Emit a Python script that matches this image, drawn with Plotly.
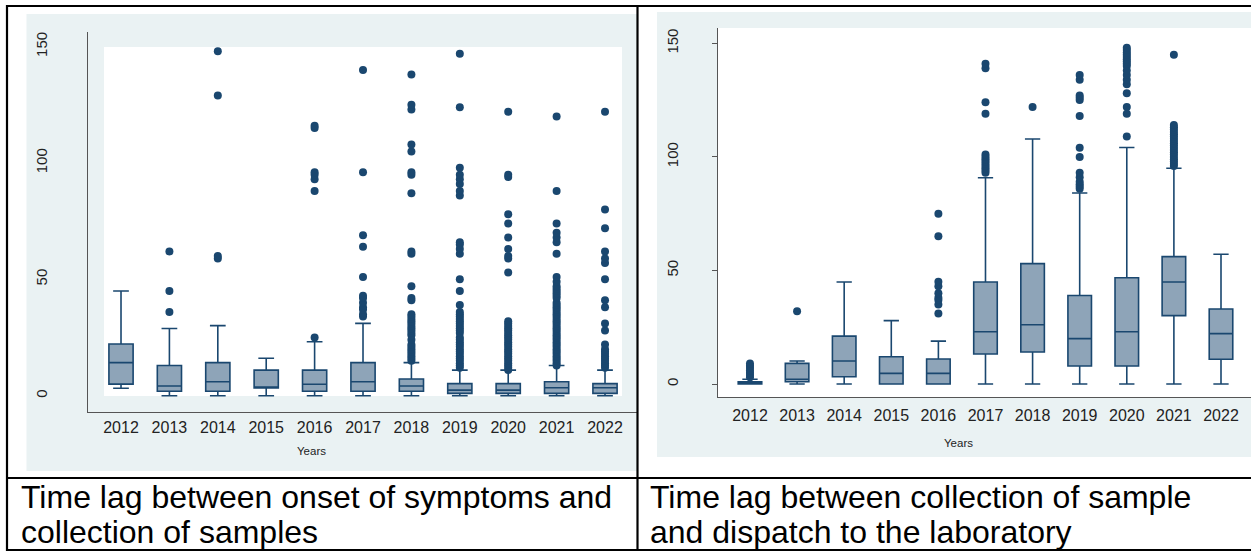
import plotly.graph_objects as go

W, H = 1251, 552

years = ["2012", "2013", "2014", "2015", "2016", "2017", "2018", "2019", "2020", "2021", "2022"]

# ---- Left panel: onset of symptoms -> collection of samples ----
left_lowerfence = [3.2, 0, 0, 0, 0, 0, 0, 0, 0, 0, 0]
left_q1 = [5.0, 1.9, 1.9, 3.3, 1.9, 1.9, 1.9, 1.0, 1.0, 1.0, 1.0]
left_median = [14.2, 4.2, 6.0, 3.3, 4.9, 6.0, 4.2, 2.4, 2.4, 3.4, 3.4]
left_q3 = [22.2, 13.0, 14.2, 11.0, 11.0, 14.2, 7.2, 5.2, 5.2, 6.0, 5.2]
left_upperfence = [45.0, 28.9, 30.1, 16.1, 23.2, 31.1, 14.2, 11.0, 11.0, 13.0, 11.0]
left_outliers = {
    "2012": [],
    "2013": [36, 45, 62],
    "2014": [59, 60, 129, 148],
    "2015": [],
    "2016": [25, 88, 93, 95, 96, 115, 116],
    "2017": [34, 35, 37, 38, 40, 42, 43, 51, 64, 69, 96, 140],
    "2018": [15, 16, 17, 18, 19, 20, 21, 22, 24, 26, 27, 28, 29, 30, 31, 32, 33, 34, 35,
             41, 42, 47, 61, 62, 87, 95, 96, 105, 108, 123, 125, 138],
    "2019": [12, 13, 14, 15, 16, 17, 18, 19, 20, 21, 22, 23, 24, 25, 27, 28, 29, 30, 31,
             32, 33, 34, 35, 36, 39, 45, 50, 61, 63, 65, 66, 86, 88, 91, 93, 95, 98, 124, 147],
    "2020": [11, 12, 13, 14, 15, 16, 17, 18, 19, 20, 21, 22, 23, 24, 25, 26, 27, 28, 29,
             30, 31, 32, 53, 59, 60, 63, 68, 74, 78, 94, 95, 122],
    "2021": [13, 14, 15, 16, 17, 18, 19, 20, 21, 22, 23, 24, 25, 26, 27, 28, 29, 30, 31,
             32, 33, 34, 35, 36, 37, 38, 39, 40, 42, 43, 44, 45, 46, 47, 49, 51, 61, 66,
             68, 70, 74, 88, 120],
    "2022": [12, 13, 14, 15, 16, 17, 18, 19, 20, 22, 28, 31, 38, 41, 50, 57, 59, 62, 72, 80, 122],
}

# ---- Right panel: collection of sample -> dispatch to laboratory ----
right_lowerfence = [0, 0, 0, 0, 0, 0, 0, 0, 0, 0, 0]
right_q1 = [0, 1.0, 3.2, 0, 0, 13.2, 14.1, 7.9, 7.9, 30.1, 10.9]
right_median = [0.2, 2.1, 10.1, 4.7, 4.7, 23.0, 26.1, 20.0, 23.0, 44.9, 22.2]
right_q3 = [1.0, 9.1, 21.1, 12.0, 11.0, 44.9, 53.0, 39.0, 46.8, 56.1, 33.0]
right_upperfence = [2.1, 10.1, 44.9, 27.9, 18.9, 90.8, 107.9, 84.1, 104.1, 95.0, 57.1]
right_outliers = {
    "2012": [3, 4, 5, 6, 7, 8, 9],
    "2013": [32],
    "2014": [],
    "2015": [],
    "2016": [31, 35, 37, 38, 40, 43, 45, 65, 75],
    "2017": [93, 94, 95, 96, 97, 98, 99, 100, 101, 119, 124, 139, 141],
    "2018": [122],
    "2019": [86, 87, 88, 89, 91, 93, 100, 104, 118, 125, 126, 127, 134, 136],
    "2020": [109, 119, 122, 128, 132, 134, 136, 138, 140, 141, 142, 143, 144, 145, 146, 147, 148],
    "2021": [96, 97, 98, 99, 100, 101, 102, 103, 104, 105, 106, 107, 108, 109, 110, 111,
             112, 113, 114, 145],
    "2022": [],
}

y_ticks = [0, 50, 100, 150]
x_title = "Years"
caption_left = ["Time lag between onset of symptoms and", "collection of samples"]
caption_right = ["Time lag between collection of sample", "and dispatch to the laboratory"]

NAVY = "#1a476f"
BOXFILL = "#8ea4b8"
BG = "#eaf2f3"
FONT = "Liberation Sans, Arial, sans-serif"


def px_x(x):
    return x / W


def px_y(y):
    return 1 - y / H


fig = go.Figure()


def add_panel(suffix, lf, q1, med, q3, uf, outl):
    fig.add_trace(go.Box(
        x=years, q1=q1, median=med, q3=q3, lowerfence=lf, upperfence=uf,
        boxpoints=False, width=0.5, whiskerwidth=0.65,
        fillcolor=BOXFILL, line=dict(color=NAVY, width=1.6),
        xaxis="x" + suffix, yaxis="y" + suffix, showlegend=False,
    ))
    xs, ys = [], []
    for yr in years:
        for v in outl[yr]:
            xs.append(yr)
            ys.append(v)
    fig.add_trace(go.Scatter(
        x=xs, y=ys, mode="markers",
        marker=dict(color=NAVY, size=8, line=dict(width=0)),
        xaxis="x" + suffix, yaxis="y" + suffix, showlegend=False,
    ))


add_panel("", left_lowerfence, left_q1, left_median, left_q3, left_upperfence, left_outliers)
add_panel("2", right_lowerfence, right_q1, right_median, right_q3, right_upperfence, right_outliers)

axis_common_x = dict(type="category", showline=True, linecolor="#555555", linewidth=1.2,
                     showgrid=False, zeroline=False, ticks="", automargin=False,
                     tickfont=dict(family=FONT, size=16, color="#222222"))
axis_common_y = dict(showline=True, linecolor="#555555", linewidth=1.2, showgrid=False,
                     zeroline=False, tickvals=y_ticks, tickangle=-90, automargin=False,
                     tickfont=dict(family=FONT, size=15, color="#222222"))

fig.update_layout(
    width=W, height=H, margin=dict(l=0, r=0, t=0, b=0, pad=0),
    paper_bgcolor="white", plot_bgcolor="rgba(0,0,0,0)",
    xaxis=dict(domain=[px_x(88), px_x(637)], range=[-0.682, 10.661], anchor="y",
               ticklabelstandoff=1, **axis_common_x),
    yaxis=dict(domain=[px_y(412), px_y(32)], range=[-7.0, 156.3], anchor="x",
               ticks="", ticklabelstandoff=34, **axis_common_y),
    xaxis2=dict(domain=[px_x(718), px_x(1251)], range=[-0.679, 10.637], anchor="y2",
                ticklabelstandoff=4, **axis_common_x),
    yaxis2=dict(domain=[px_y(397), px_y(28)], range=[-5.72, 156.74], anchor="x2",
                ticks="outside", ticklen=5, tickcolor="#555555", ticklabelstandoff=28,
                **axis_common_y),
)

shapes = []


def rect(x0, y0, x1, y1, color):
    shapes.append(dict(type="rect", xref="paper", yref="paper", layer="below",
                       x0=px_x(x0), x1=px_x(x1), y0=px_y(y1), y1=px_y(y0),
                       fillcolor=color, line=dict(width=0)))


def line(x0, y0, x1, y1, w=2.2):
    shapes.append(dict(type="line", xref="paper", yref="paper", layer="above",
                       x0=px_x(x0), x1=px_x(x1), y0=px_y(y0), y1=px_y(y1),
                       line=dict(color="black", width=w)))


rect(26.5, 14, 637, 471, BG)
rect(657, 12, 1251, 457, BG)
rect(104, 47, 622, 396, "white")
rect(718, 28, 1251, 397, "white")

line(6, 6, 1251, 6)
line(7, 5, 7, 551)
line(637.5, 5, 637.5, 551)
line(6, 478, 1251, 478)
line(6, 550, 1251, 550)

annotations = [
    dict(text=x_title, x=px_x(311), y=px_y(451), xref="paper", yref="paper",
         xanchor="center", yanchor="middle",
         showarrow=False, font=dict(family=FONT, size=11.5, color="#222222")),
    dict(text=x_title, x=px_x(958), y=px_y(443), xref="paper", yref="paper",
         xanchor="center", yanchor="middle",
         showarrow=False, font=dict(family=FONT, size=11.5, color="#222222")),
]
for i, t in enumerate(caption_left):
    annotations.append(dict(text=t, x=px_x(19), y=px_y(497 + 35 * i), xref="paper", yref="paper",
                            xanchor="left", yanchor="middle", showarrow=False,
                            font=dict(family=FONT, size=32, color="black")))
for i, t in enumerate(caption_right):
    annotations.append(dict(text=t, x=px_x(648), y=px_y(497 + 35 * i), xref="paper", yref="paper",
                            xanchor="left", yanchor="middle", showarrow=False,
                            font=dict(family=FONT, size=32, color="black")))

fig.update_layout(shapes=shapes, annotations=annotations)

fig.write_html("out.html", config={"displayModeBar": False},
               post_script="document.body.style.margin='0px';document.body.style.overflow='hidden';")
